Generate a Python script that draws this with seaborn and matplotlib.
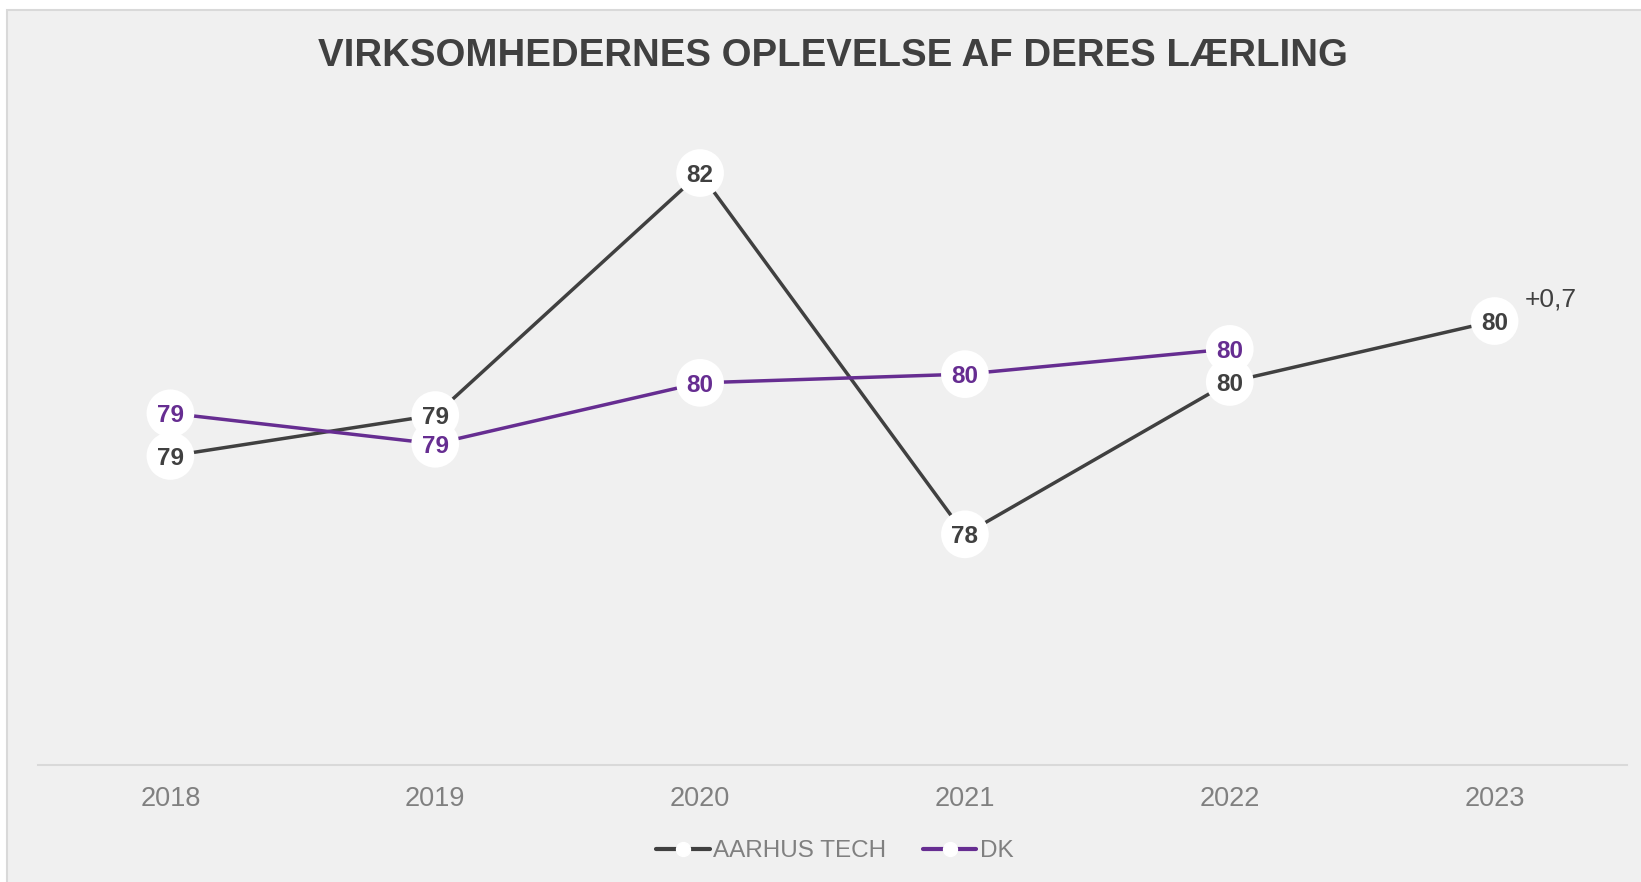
import matplotlib
matplotlib.use("Agg")
import matplotlib.pyplot as plt
import seaborn as sns
import pandas as pd
from matplotlib.patches import Rectangle
from matplotlib.lines import Line2D

# ---- data ----
years = ["2018", "2019", "2020", "2021", "2022", "2023"]
aarhus_tech = [78.75, 79.22, 82.0, 77.85, 79.6, 80.3]
dk = [79.24, 78.89, 79.59, 79.69, 79.98, None]
aarhus_labels = ["79", "79", "82", "78", "80", "80"]
dk_labels = ["79", "79", "80", "80", "80", ""]
series_names = ["AARHUS TECH", "DK"]
delta_label = "+0,7"
title = "VIRKSOMHEDERNES OPLEVELSE AF DERES LÆRLING"

c_dark = "#404040"
c_purple = "#662D91"

rows = []
for i, y in enumerate(years):
    if aarhus_tech[i] is not None:
        rows.append(dict(year=y, x=i, value=aarhus_tech[i], series=series_names[0], label=aarhus_labels[i]))
    if dk[i] is not None:
        rows.append(dict(year=y, x=i, value=dk[i], series=series_names[1], label=dk_labels[i]))
df = pd.DataFrame(rows)

sns.set_theme(style="white")
plt.rcParams["font.family"] = ["Liberation Sans", "DejaVu Sans"]

W, H = 1641, 882
fig = plt.figure(figsize=(W / 100, H / 100), dpi=100, facecolor="white")
# chart area background with border
bg = Rectangle((7 / W, -0.01), 1.01, (H - 10) / H + 0.01, transform=fig.transFigure,
               facecolor="#f0f0f0", edgecolor="#d9d9d9", linewidth=1.5, zorder=-10)
fig.patches.append(bg)

ax_left, ax_right = 38 / W, 1627 / W
ax_bottom, ax_top = (H - 765) / H, (H - 86) / H
ax = fig.add_axes([ax_left, ax_bottom, ax_right - ax_left, ax_top - ax_bottom])
ax.set_facecolor("none")
ax.set_zorder(1)

palette = {series_names[0]: c_dark, series_names[1]: c_purple}
sns.lineplot(data=df, x="x", y="value", hue="series", palette=palette, linewidth=2.5,
             ax=ax, legend=False, zorder=2, sort=False)
sns.scatterplot(data=df, x="x", y="value", color="white", s=1180, edgecolor="none",
                ax=ax, legend=False, zorder=3)

for _, r in df.iterrows():
    ax.text(r["x"], r["value"], r["label"], ha="center", va="center_baseline", fontsize=17.5,
            fontweight="bold", color=palette[r["series"]], zorder=4)

# delta annotation next to last point
last_i = len(years) - 1
ax.annotate(delta_label, xy=(last_i, aarhus_tech[last_i]), xytext=(22, 17), textcoords="offset points",
            ha="left", va="center_baseline", fontsize=19, color=c_dark)

ax.set_xlim(-0.5, len(years) - 0.5)
ax.set_ylim(75.2, 83.0)
ax.set_xticks(range(len(years)))
ax.set_xticklabels(years)
ax.set_yticks([])
ax.set_xlabel("")
ax.set_ylabel("")
for s in ["top", "left", "right"]:
    ax.spines[s].set_visible(False)
ax.spines["bottom"].set_color("#d9d9d9")
ax.spines["bottom"].set_linewidth(1.5)
ax.tick_params(axis="x", length=0, pad=15, labelsize=19.5, labelcolor="#808080")

fig.text((ax_left + ax_right) / 2, (H - 56) / H, title, ha="center", va="center",
         fontsize=27.6, fontweight="bold", color=c_dark)

handles = [Line2D([0], [0], color=palette[n], linewidth=3, marker="o", markersize=10,
                  markerfacecolor="white", markeredgecolor="white") for n in series_names]
fig.legend(handles, series_names, loc="center", bbox_to_anchor=(835 / W, (H - 851) / H),
           ncol=2, frameon=False, fontsize=17.5, labelcolor="#808080", handlelength=2.2,
           handletextpad=0.15, columnspacing=1.5)

fig.savefig("out.png", dpi=100, facecolor="white")
